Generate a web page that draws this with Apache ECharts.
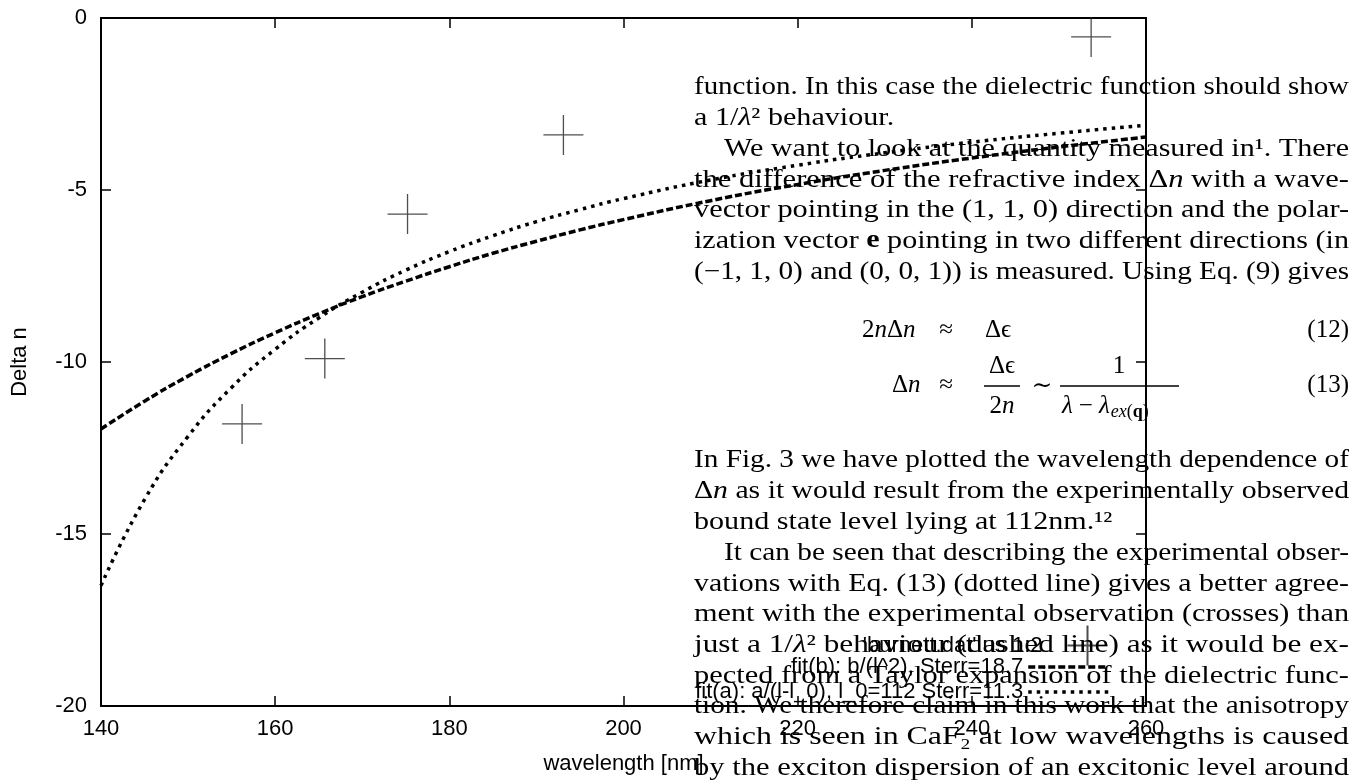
<!DOCTYPE html>
<html><head><meta charset="utf-8">
<script src="https://cdn.jsdelivr.net/npm/echarts@6/dist/echarts.min.js"></script>
<style>html,body{margin:0;padding:0;background:#fff}#c{width:1350px;height:780px}</style>
</head><body><div id="c"></div>
<script>
// ---- data ----
const wavelength = [140,145,150,155,160,165,170,175,180,185,190,195,200,210,220,230,240,250,260];
const fitB = [-11.95,-11.14,-10.41,-9.75,-9.15,-8.6,-8.1,-7.65,-7.23,-6.84,-6.49,-6.16,-5.86,-5.31,-4.84,-4.43,-4.07,-3.75,-3.46];
const fitA = [-16.5,-14.0,-12.16,-10.74,-9.63,-8.72,-7.97,-7.33,-6.79,-6.33,-5.92,-5.57,-5.25,-4.71,-4.28,-3.92,-3.61,-3.35,-3.12];
const obsWavelength = [156.2,165.7,175.2,193.1,253.7];
const obsDelta = [-11.8,-9.9,-5.7,-3.4,-0.55];
const seriesNames = ["'burnett.dat' us 1:2", "fit(b): b/(l^2), Sterr=18.7", "fit(a): a/(l-l_0), l_0=112 Sterr=11.3"];
const xRange = [140, 260, 20];
const yRange = [-20, 0, 5];

const pair = (xs, ys) => xs.map((x, i) => [x, ys[i]]);
const SANS = '"Liberation Sans", Arial, sans-serif';
const SERIF = '"Liberation Serif", "DejaVu Serif", serif';
const crossPath = 'path://M0,20L40,20M20,0L20,40';

// ---- overlaid paper text ----
const TL = 694, TR = 1349, FS = 25;
const paper = [
  {y:87, ind:0, j:true, s:[['function. In this case the dielectric function should show']]},
  {y:118, ind:0, j:false, s:[['a 1/'],['λ','i'],['² behaviour.']]},
  {y:149, ind:30, j:true, s:[['We want to look at the quantity measured in¹. There']]},
  {y:180, ind:0, j:true, s:[['the difference of the refractive index Δ'],['n','i'],[' with a wave-']]},
  {y:210, ind:0, j:true, s:[['vector pointing in the (1, 1, 0) direction and the polar-']]},
  {y:241, ind:0, j:true, s:[['ization vector '],['e','b'],[' pointing in two different directions (in']]},
  {y:272, ind:0, j:true, s:[['(−1, 1, 0) and (0, 0, 1)) is measured. Using Eq. (9) gives']]},
  {y:460, ind:0, j:true, s:[['In Fig. 3 we have plotted the wavelength dependence of']]},
  {y:491, ind:0, j:true, s:[['Δ'],['n','i'],[' as it would result from the experimentally observed']]},
  {y:522, ind:0, j:false, s:[['bound state level lying at 112nm.¹²']]},
  {y:553, ind:30, j:true, s:[['It can be seen that describing the experimental obser-']]},
  {y:584, ind:0, j:true, s:[['vations with Eq. (13) (dotted line) gives a better agree-']]},
  {y:614, ind:0, j:true, s:[['ment with the experimental observation (crosses) than']]},
  {y:645, ind:0, j:true, s:[['just a 1/'],['λ','i'],['² behaviour (dashed line) as it would be ex-']]},
  {y:676, ind:0, j:true, s:[['pected from a Taylor expansion of the dielectric func-']]},
  {y:706, ind:0, j:true, s:[['tion. We therefore claim in this work that the anisotropy']]},
  {y:737, ind:0, j:true, s:[['which is seen in CaF₂ at low wavelengths is caused']]},
  {y:768, ind:0, j:true, s:[['by the exciton dispersion of an excitonic level around']]}
];
const mctx = document.createElement('canvas').getContext('2d');
function fontStr(st, size){ return (st === 'i' ? 'italic ' : '') + (st === 'b' ? 'bold ' : '') + size + 'px ' + SERIF; }
function measureSegs(segs, size){
  let w = 0;
  segs.forEach(([t, st]) => { mctx.font = fontStr(st, size); w += mctx.measureText(t).width; });
  return w;
}
const richStyles = {
  r: {fontSize: FS, fontFamily: SERIF, fill: '#000'},
  i: {fontSize: FS, fontFamily: SERIF, fontStyle: 'italic', fill: '#000'},
  b: {fontSize: FS, fontFamily: SERIF, fontWeight: 'bold', fill: '#000'}
};
const graphics = [];
let ratios = [];
paper.forEach(line => {
  line.w = measureSegs(line.s, FS);
  if (line.j) ratios.push((TR - TL - line.ind) / line.w);
});
ratios.sort((a, b) => a - b);
const natScale = ratios[Math.floor(ratios.length / 2)];
paper.forEach(line => {
  const txt = line.s.map(([t, st]) => '{' + (st || 'r') + '|' + t + '}').join('');
  const sx = line.j ? (TR - TL - line.ind) / line.w : natScale;
  graphics.push({type:'text', x: TL + line.ind, y: line.y, scaleX: sx, z: 10, silent: true,
    style:{text: txt, rich: richStyles, fontSize: FS, fontFamily: SERIF, fill:'#000', textAlign:'left', textVerticalAlign:'middle'}});
});
function tx(x, y, text, align, size, style, sx){
  graphics.push({type:'text', x, y, z: 10, silent: true, scaleX: sx || 1,
    style:{text, fontSize: size || FS, fontFamily: SERIF, fontStyle: style === 'italic' ? 'italic' : 'normal',
      fontWeight: style === 'bold' ? 'bold' : 'normal', fill:'#000', textAlign: align || 'left', textVerticalAlign:'middle'}});
}
function bar(x1, x2, y){
  graphics.push({type:'line', z: 10, silent: true, shape:{x1, y1:y, x2, y2:y}, style:{stroke:'#000', lineWidth:1.6}});
}
function w(t, st, size){ mctx.font = fontStr(st, size || FS); return mctx.measureText(t).width; }
// eq (12)
(function(){
  let x = 862;
  tx(x, 330, '2', 'left'); x += w('2');
  tx(x, 330, 'n', 'left', FS, 'italic'); x += w('n', 'i');
  tx(x, 330, 'Δ', 'left'); x += w('Δ');
  tx(x, 330, 'n', 'left', FS, 'italic');
})();
tx(946, 330, '≈', 'center'); tx(985, 330, 'Δϵ', 'left');
tx(TR, 330, '(12)', 'right');
// eq (13)
tx(892, 385, 'Δ', 'left'); tx(892 + w('Δ'), 385, 'n', 'left', FS, 'italic'); tx(946, 385, '≈', 'center');
tx(1002, 366, 'Δϵ', 'center'); bar(984, 1020, 386);
tx(1002, 406, '2', 'right'); tx(1002, 406, 'n', 'left', FS, 'italic');
tx(1042, 386, '∼', 'center');
tx(1119, 366, '1', 'center'); bar(1060, 1179, 386);
(function(){
  let x = 1062;
  tx(x, 406, 'λ', 'left', FS, 'italic'); x += w('λ', 'i') + 6;
  tx(x, 406, '−', 'left'); x += w('−') + 6;
  tx(x, 406, 'λ', 'left', FS, 'italic'); x += w('λ', 'i') + 1;
  tx(x, 412, 'ex', 'left', 18, 'italic'); x += w('ex', 'i', 18);
  tx(x, 412, '(', 'left', 18); x += w('(', '', 18);
  tx(x, 412, 'q', 'left', 18, 'bold'); x += w('q', 'b', 18);
  tx(x, 412, ')', 'left', 18);
})();
tx(TR, 385, '(13)', 'right');

const axisCommon = {
  type:'value',
  axisLine:{show:true, onZero:false, lineStyle:{color:'#000', width:2}},
  axisTick:{show:true, inside:true, length:10, lineStyle:{color:'#000', width:1.5}},
  splitLine:{show:false}
};
const legendText = {color:'#000', fontSize:22, fontFamily:SANS};
const option = {
  backgroundColor:'#fff',
  animation:false,
  grid:{left:101, right:204, top:18, bottom:69, containLabel:false},
  xAxis:[
    Object.assign({}, axisCommon, {position:'bottom', min:xRange[0], max:xRange[1], interval:xRange[2],
      axisLabel:{show:true, color:'#000', fontSize:22, fontFamily:SANS, margin:12},
      name:'wavelength [nm]', nameLocation:'middle', nameGap:47,
      nameTextStyle:{color:'#000', fontSize:22, fontFamily:SANS}}),
    Object.assign({}, axisCommon, {position:'top', min:xRange[0], max:xRange[1], interval:xRange[2], axisLabel:{show:false}})
  ],
  yAxis:[
    Object.assign({}, axisCommon, {position:'left', min:yRange[0], max:yRange[1], interval:yRange[2],
      axisLabel:{show:true, color:'#000', fontSize:22, fontFamily:SANS, margin:14},
      name:'Delta n', nameLocation:'middle', nameGap:70, nameRotate:90,
      nameTextStyle:{color:'#000', fontSize:22, fontFamily:SANS}}),
    Object.assign({}, axisCommon, {position:'right', min:yRange[0], max:yRange[1], interval:yRange[2], axisLabel:{show:false}})
  ],
  legend:[
    {data:[{name:seriesNames[0], icon:crossPath}], align:'right', right:240, top:623, padding:0, itemWidth:80, itemHeight:40,
      symbolKeepAspect:true, textStyle:legendText, selectedMode:false},
    {data:[seriesNames[1]], align:'right', right:240, top:656, padding:0, itemWidth:80, itemHeight:14,
      itemStyle:{opacity:0}, lineStyle:{width:3.5, type:[7,3], color:'#000', cap:'butt'}, textStyle:legendText, selectedMode:false},
    {data:[seriesNames[2]], align:'right', right:240, top:681, padding:0, itemWidth:80, itemHeight:14,
      itemStyle:{opacity:0}, lineStyle:{width:3.5, type:[3.5,5], color:'#000', cap:'butt'}, textStyle:legendText, selectedMode:false}
  ],
  series:[
    {name:seriesNames[0], type:'scatter', data:pair(obsWavelength, obsDelta), symbol:crossPath, symbolSize:40,
      itemStyle:{color:'none', borderColor:'#222', borderWidth:1.3}, z:3},
    {name:seriesNames[1], type:'line', data:pair(wavelength, fitB), symbol:'none', showSymbol:false, smooth:true,
      lineStyle:{color:'#000', width:3.5, type:[7,3], cap:'butt'}, itemStyle:{color:'#000'}, z:2},
    {name:seriesNames[2], type:'line', data:pair(wavelength, fitA), symbol:'none', showSymbol:false, smooth:true,
      lineStyle:{color:'#000', width:3.5, type:[3.5,5], cap:'butt'}, itemStyle:{color:'#000'}, z:2}
  ],
  graphic: graphics
};
const chart = echarts.init(document.getElementById('c'));
chart.setOption(option);
</script>
</body></html>
